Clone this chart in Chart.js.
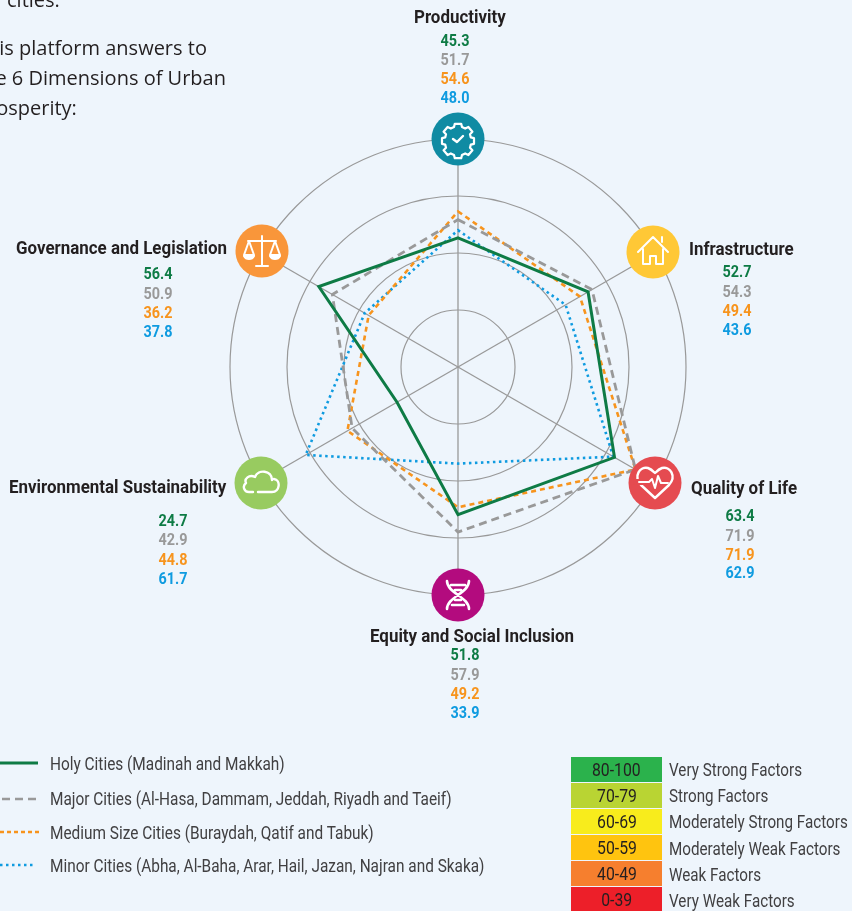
<!DOCTYPE html>
<html lang="en">

<head>
    <meta charset="UTF-8">
    <title>Dimensions of Urban Prosperity</title>
    <script src="https://cdn.jsdelivr.net/npm/chart.js"></script>
    <style>
        html, body { margin: 0; padding: 0; background: #eef5fc; }
        body { position: relative; width: 852px; height: 911px; overflow: hidden; }
        #radar { position: absolute; left: 0; top: 0; }
        #overlay { position: absolute; left: 0; top: 0; width: 852px; height: 911px; }
        .t { position: absolute; white-space: nowrap; line-height: 1; transform-origin: left center; }
        .intro { font-family: "Open Sans", sans-serif; font-size: 20px; color: #231f20; }
        /* no condensed face installed, so Roboto gets squeezed */
        .dim { font-family: Roboto, sans-serif; font-weight: bold; font-size: 18px; color: #231f20; transform: scaleX(0.94); }
        .val { font-family: Roboto, sans-serif; font-weight: bold; font-size: 16px; transform-origin: center; transform: translateX(-50%) scaleX(0.9); }
        .leg { font-family: Roboto, sans-serif; font-size: 18px; color: #414042; transform: scaleX(0.855); }
        .side { transform: scaleX(0.845); }
        .band { position: absolute; left: 571px; width: 91px; text-align: center; color: #231f20;
                font-family: Roboto, sans-serif; font-size: 19px; line-height: 25px; height: 25px; }
        .band span { display: inline-block; transform: scaleX(0.83); }
    </style>
</head>

<body>
    <canvas id="radar" width="852" height="911"></canvas>

    <svg id="overlay" viewBox="0 0 852 911" fill="none" stroke="#fff" stroke-width="2" stroke-linecap="round" stroke-linejoin="round">
        <!-- productivity: gear -->
        <circle cx="458" cy="139" r="26.5" fill="#108ba3" stroke="none"/>
        <path d="M454 124h8l1 4 4 2 4-2 5 6-3 3 1 4 4 1v7l-4 1-1 4 3 3-5 6-4-2-4 2-1 4h-8l-1-4-4-2-4 2-5-6 3-3-1-4-4-1v-7l4-1 1-4-3-3 5-6 4 2 4-2z" transform="translate(458 139) scale(0.8) translate(-458 -143)" stroke-width="2.8"/>
        <path d="M453 139l4 3 6-6" stroke-width="2.4"/>
        <!-- infrastructure: house -->
        <circle cx="653" cy="252" r="26.5" fill="#ffc836" stroke="none"/>
        <path d="M638 252l15-15 15 15M643 249v15h7v-8h6v8h7v-15M662 242v-5"/>
        <!-- quality of life: heart with pulse -->
        <circle cx="655" cy="483" r="26.5" fill="#e54b50" stroke="none"/>
        <path d="M655 498L641 485C633 476 640 466 648 468C651 469 653 471 655 473C657 471 659 469 662 468C670 466 677 476 669 485Z" stroke-width="2.4"/>
        <path d="M636 482h12" stroke="#e54b50" stroke-width="6"/>
        <path d="M639 482h10l3-3 3 9 3-12 3 7h7" stroke-width="2"/>
        <!-- equity: dna -->
        <circle cx="458" cy="595" r="26.5" fill="#b30b7e" stroke="none"/>
        <path d="M447 581c0 12 22 16 22 28M469 581c0 12-22 16-22 28M451 585h14M452 605h12M455 590h6M455 600h6" stroke-width="2.6"/>
        <!-- environment: cloud -->
        <circle cx="261" cy="483" r="26.5" fill="#98cb60" stroke="none"/>
        <path d="M258 492h14c8 0 9-12 2-13-1 0-2 0-2 1 0-10-14-11-17-3-6-3-11 2-9 6-4 3-2 9 3 9h4" stroke-width="2.4"/>
        <!-- governance: scales -->
        <circle cx="262" cy="251" r="26.5" fill="#f9963a" stroke="none"/>
        <path d="M262 236v30M256 266h12M248 241h28M249 241l-5 14h10zM275 241l-5 14h10z"/>
        <path d="M244 256c2 4 8 4 10 0zM270 256c2 4 8 4 10 0z" fill="#fff"/>
        <!-- legend samples -->
        <line x1="0" y1="763" x2="38" y2="763" stroke="#0e7b45" stroke-width="3" stroke-linecap="butt"/>
        <line x1="2" y1="799" x2="40" y2="799" stroke="#999" stroke-width="2.5" stroke-dasharray="8 5" stroke-linecap="butt"/>
        <line x1="0" y1="832" x2="40" y2="832" stroke="#f7941d" stroke-width="2.5" stroke-dasharray="4 3" stroke-linecap="butt"/>
        <line x1="0" y1="865" x2="36" y2="865" stroke="#0f9be0" stroke-width="2.5" stroke-dasharray="2.5 3.5" stroke-linecap="butt"/>
    </svg>

    <div id="labels"></div>

    <script>
        var dimensions = ['Productivity', 'Infrastructure', 'Quality of Life', 'Equity and Social Inclusion', 'Environmental Sustainability', 'Governance and Legislation'];
        var holyCities = [45.3, 52.7, 63.4, 51.8, 24.7, 56.4];
        var majorCities = [51.7, 54.3, 71.9, 57.9, 42.9, 50.9];
        var mediumCities = [54.6, 49.4, 71.9, 49.2, 44.8, 36.2];
        var minorCities = [48.0, 43.6, 62.9, 33.9, 61.7, 37.8];
        var seriesNames = ['Holy Cities (Madinah and Makkah)', 'Major Cities (Al-Hasa, Dammam, Jeddah, Riyadh and Taeif)', 'Medium Size Cities (Buraydah, Qatif and Tabuk)', 'Minor Cities (Abha, Al-Baha, Arar, Hail, Jazan, Najran and Skaka)'];
        var bandRanges = ['80-100', '70-79', '60-69', '50-59', '40-49', '0-39'];
        var bandNames = ['Very Strong Factors', 'Strong Factors', 'Moderately Strong Factors', 'Moderately Weak Factors', 'Weak Factors', 'Very Weak Factors'];

        var seriesColors = ['#0e7b45', '#999999', '#f7941d', '#0f9be0'];
        var bandColors = ['#2bb24c', '#b9d433', '#f8ec1c', '#ffc40f', '#f67f2e', '#ed1f29'];
        var allSeries = [holyCities, majorCities, mediumCities, minorCities];

        var labelsBox = document.getElementById('labels');

        function addText(cls, text, left, centerY, color) {
            var el = document.createElement('div');
            el.className = 't ' + cls;
            el.textContent = text;
            el.style.left = left + 'px';
            el.style.top = centerY + 'px';
            el.style.marginTop = '-0.5em';
            if (color) el.style.color = color;
            labelsBox.appendChild(el);
            return el;
        }

        // where the name and the four values of each dimension sit
        var namePlaces = [
            { x: 414, y: 17 }, { x: 689, y: 249 }, { x: 691, y: 488 },
            { x: 370, y: 636 }, { x: 9, y: 487 }, { x: 16, y: 248 }
        ];
        var valuePlaces = [
            { x: 455, ys: [41, 60, 79, 98] }, { x: 737, ys: [272, 292, 311, 330] }, { x: 740, ys: [516, 536, 555, 573] },
            { x: 465, ys: [655, 675, 694, 713] }, { x: 173, ys: [521, 540, 560, 579] }, { x: 158, ys: [274, 294, 313, 332] }
        ];

        dimensions.forEach(function (name, i) {
            addText('dim', name, namePlaces[i].x, namePlaces[i].y);
            allSeries.forEach(function (values, s) {
                addText('val', values[i].toFixed(1), valuePlaces[i].x, valuePlaces[i].ys[s], seriesColors[s]);
            });
        });

        // intro text, cropped by the page edge like the reference
        addText('intro', 'cities.', 7, 0);
        addText('intro', 'This platform answers to', -24, 48);
        addText('intro', 'the 6 Dimensions of Urban', -24, 78);
        addText('intro', 'Prosperity:', -24, 108);

        var legendYs = [764, 799, 833, 866];
        seriesNames.forEach(function (name, i) {
            addText('leg', name, 49.5, legendYs[i]);
        });

        bandRanges.forEach(function (range, i) {
            var band = document.createElement('div');
            band.className = 'band';
            var inner = document.createElement('span');
            inner.textContent = range;
            band.appendChild(inner);
            band.style.top = (757 + i * 26) + 'px';
            band.style.background = bandColors[i];
            labelsBox.appendChild(band);
            addText('leg side', bandNames[i], 669, 770 + i * 26.2);
        });

        var ctx = document.getElementById('radar').getContext('2d');
        new Chart(ctx, {
            type: 'radar',
            data: {
                labels: dimensions,
                datasets: [
                    { label: seriesNames[0], data: holyCities, borderColor: seriesColors[0], borderWidth: 3 },
                    { label: seriesNames[1], data: majorCities, borderColor: seriesColors[1], borderWidth: 2.8, borderDash: [8, 5] },
                    { label: seriesNames[2], data: mediumCities, borderColor: seriesColors[2], borderWidth: 2.6, borderDash: [5, 4] },
                    { label: seriesNames[3], data: minorCities, borderColor: seriesColors[3], borderWidth: 2.6, borderDash: [2.5, 3.5] }
                ]
            },
            options: {
                responsive: false,
                animation: false,
                layout: { padding: { left: 230, right: 166, top: 139, bottom: 316 } },
                elements: {
                    point: { radius: 0, hoverRadius: 0 },
                    line: { fill: false, tension: 0, backgroundColor: 'transparent' }
                },
                plugins: { legend: { display: false }, tooltip: { enabled: false } },
                scales: {
                    r: {
                        min: 0,
                        max: 80,
                        ticks: { display: false, stepSize: 20 },
                        pointLabels: { display: false },
                        angleLines: { color: '#999999', lineWidth: 1.3 },
                        grid: { circular: true, color: '#999999', lineWidth: 1.2 }
                    }
                }
            }
        });
    </script>

</body>

</html>
